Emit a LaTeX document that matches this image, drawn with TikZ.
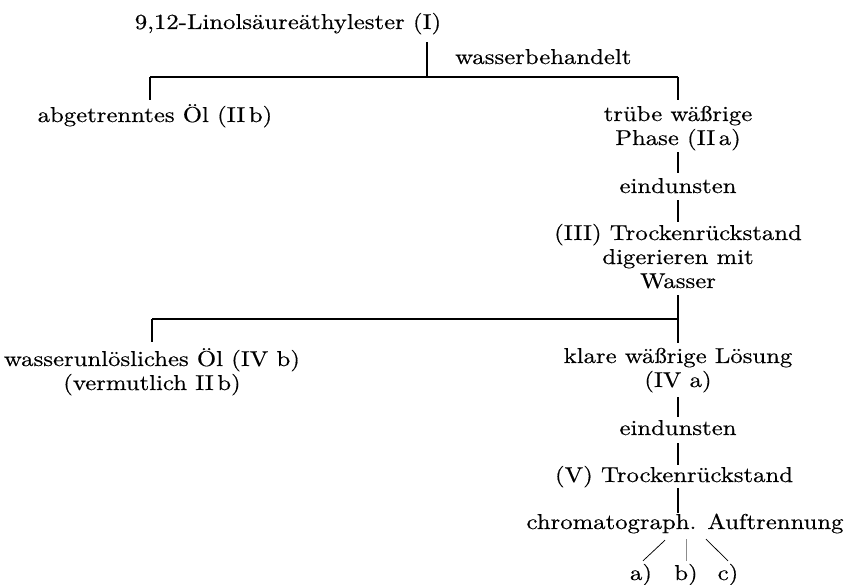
\documentclass[tikz,border=0pt]{standalone}
\usepackage{fontspec}
\setmainfont{lmroman10-regular.otf}[FakeStretch=1.15,FakeBold=0.5]
\usetikzlibrary{calc}
\newcommand\ml[1]{\begin{tabular}[t]{@{}c@{}}#1\end{tabular}}
\begin{document}
\begin{tikzpicture}[x=1pt,y=-1pt,
  lbl/.style={anchor=base,inner sep=0pt,font=\fontsize{21.5}{24}\selectfont},
  one/.style={text height=14pt,text depth=5pt},
  ln/.style={line width=2pt},
  fine/.style={line width=0.75pt},
  faint/.style={line width=0.6pt,black!45}]
\useasboundingbox (0,0) rectangle (847,585);
% texts
\node[lbl,one] (n1) at (288,29) {9,12-Linolsäureäthylester (I)};
\node[lbl,one,anchor=base west] (wb) at (455,64) {wasserbehandelt};
\node[lbl,one] (n2b) at (155,122) {abgetrenntes Öl (II\,b)};
\node[lbl] (n2a) at (678,121) {\ml{trübe wäßrige\\Phase (II\,a)}};
\node[lbl,one] (e1) at (678,193) {eindunsten};
\node[lbl] (n3) at (678,240) {\ml{(III) Trockenrückstand\\digerieren mit\\Wasser}};
\node[lbl] (n4b) at (152,366) {\ml{wasserunlösliches Öl (IV b)\\(vermutlich II\,b)}};
\node[lbl] (n4a) at (678,363) {\ml{klare wäßrige Lösung\\(IV a)}};
\node[lbl,one] (e2) at (678,435) {eindunsten};
\node[lbl,one] (n5) at (674,482) {(V) Trockenrückstand};
\node[lbl,one] (ch) at (685,529) {chromatograph. Auftrennung};
\node[lbl,one] (a) at (641,580) {a)};
\node[lbl,one] (b) at (686,580) {b)};
\node[lbl,one] (c) at (728,580) {c)};
% junctions
\coordinate (j1) at (427,77);
\coordinate (l1) at (150,77);
\coordinate (r1) at (678,77);
\coordinate (j2) at (678,319);
\coordinate (l2) at (152,319);
% connectors
\draw[ln] ($(n1.south -| j1)+(0,8)$) -- (j1);
\draw[ln] (l1) -- (r1);
\draw[ln,shorten >=8pt] (l1) -- (l1 |- n2b.north);
\draw[ln,shorten >=4pt] (r1) -- (r1 |- n2a.north);
\draw[ln,shorten >=6pt] (n2a.south) -- (e1.north);
\draw[ln,shorten <=2pt,shorten >=1pt] (e1.south) -- (n3.north);
\draw[ln,shorten >=3pt] (n3.south) -- (n4a.north);
\draw[ln] (l2) -- (j2);
\draw[ln,shorten >=6pt] (l2) -- (l2 |- n4b.north);
\draw[ln,shorten <=3pt,shorten >=4pt] (n4a.south) -- (e2.north);
\draw[ln,shorten <=3pt,shorten >=3pt] (e2.south) -- (e2.south |- n5.north);
\draw[ln,shorten <=1pt,shorten >=2pt] (e2.south |- n5.south) -- (e2.south |- ch.north);
\draw[fine] ($(ch.south)+(-20,6)$) -- ($(a.north)+(2,-5)$);
\draw[faint] ($(ch.south)+(1,5)$) -- ($(b.north)+(0,-5)$);
\draw[fine] ($(ch.south)+(21,5)$) -- ($(c.north)+(0,-5)$);
\end{tikzpicture}
\end{document}
